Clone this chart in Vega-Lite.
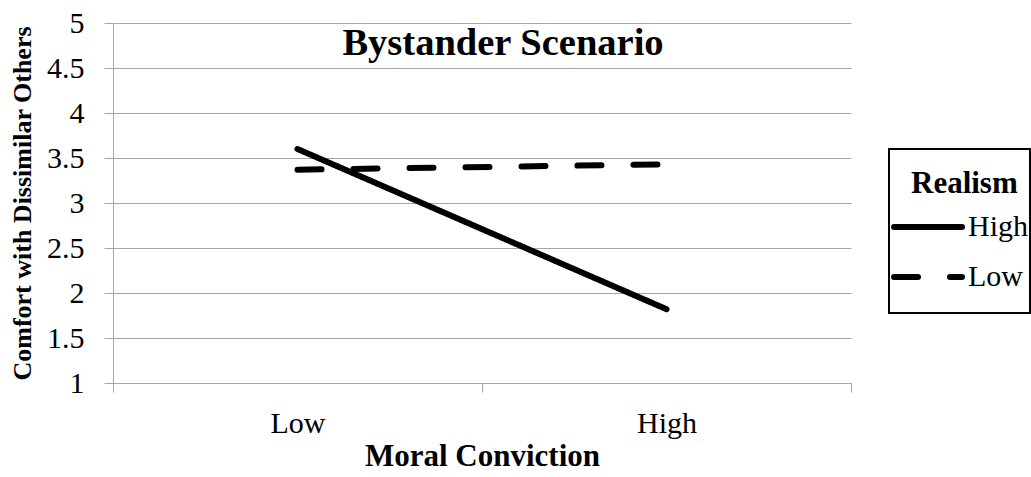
{
  "$schema": "https://vega.github.io/schema/vega-lite/v6.json",
  "width": 738,
  "height": 360,
  "autosize": "none",
  "padding": {"left": 113, "top": 23, "right": 180, "bottom": 94},
  "background": "white",
  "config": {"view": {"stroke": null}, "font": "Liberation Serif"},
  "title": {
    "text": "Bystander Scenario",
    "font": "Liberation Serif",
    "fontSize": 38.5,
    "fontWeight": "bold",
    "color": "black",
    "anchor": "middle",
    "frame": "group",
    "baseline": "alphabetic",
    "dx": 21,
    "dy": 85,
    "offset": 0
  },
  "data": {
    "values": [
      {"conviction": "Low", "realism": "High", "comfort": 3.60},
      {"conviction": "High", "realism": "High", "comfort": 1.82},
      {"conviction": "Low", "realism": "Low", "comfort": 3.37},
      {"conviction": "High", "realism": "Low", "comfort": 3.43}
    ]
  },
  "mark": {"type": "line", "stroke": "black", "strokeWidth": 6, "strokeCap": "round"},
  "encoding": {
    "x": {
      "field": "conviction",
      "type": "nominal",
      "sort": ["Low", "High"],
      "scale": {"type": "band", "paddingInner": 0, "paddingOuter": 0},
      "axis": {
        "title": "Moral Conviction",
        "labelAngle": 0,
        "tickBand": "extent",
        "domainColor": "#a6a6a6",
        "tickColor": "#a6a6a6",
        "tickSize": 9,
        "labelFont": "Liberation Serif",
        "labelFontSize": 30,
        "labelColor": "black",
        "labelPadding": 16,
        "titleFont": "Liberation Serif",
        "titleFontSize": 31,
        "titleFontWeight": "bold",
        "titleColor": "black",
        "titlePadding": 3
      }
    },
    "y": {
      "field": "comfort",
      "type": "quantitative",
      "scale": {"domain": [1, 5], "nice": false, "zero": false},
      "axis": {
        "title": "Comfort with Dissimilar Others",
        "values": [1, 1.5, 2, 2.5, 3, 3.5, 4, 4.5, 5],
        "format": "~g",
        "grid": true,
        "gridColor": "#a6a6a6",
        "domainColor": "#a6a6a6",
        "tickColor": "#a6a6a6",
        "tickSize": 9,
        "labelFont": "Liberation Serif",
        "labelFontSize": 30,
        "labelColor": "black",
        "labelPadding": 20,
        "titleFont": "Liberation Serif",
        "titleFontSize": 26,
        "titleFontWeight": "bold",
        "titleColor": "black",
        "titlePadding": 11
      }
    },
    "strokeDash": {
      "field": "realism",
      "type": "nominal",
      "sort": ["High", "Low"],
      "scale": {"domain": ["High", "Low"], "range": [[1, 0], [24, 32]]},
      "legend": {
        "orient": "none",
        "legendX": 776,
        "legendY": 126,
        "title": "Realism",
        "titleFont": "Liberation Serif",
        "titleFontSize": 31,
        "titleFontWeight": "bold",
        "titleColor": "black",
        "titleAnchor": "start",
        "titlePadding": 29,
        "labelFont": "Liberation Serif",
        "labelFontSize": 30,
        "labelColor": "black",
        "labelOffset": 3,
        "symbolType": "stroke",
        "symbolSize": 4624,
        "symbolStrokeWidth": 6,
        "symbolStrokeColor": "black",
        "symbolOffset": 0,
        "clipHeight": 50,
        "rowPadding": 0,
        "padding": 2,
        "strokeColor": "black",
        "encode": {
          "legend": {"update": {"strokeWidth": {"value": 2}}},
          "title": {"update": {"dx": {"value": 20}, "dy": {"value": 18}}},
          "symbols": {"update": {"strokeCap": {"value": "round"}, "y": {"value": 16}}},
          "labels": {"update": {"y": {"value": 16}}}
        }
      }
    }
  }
}
